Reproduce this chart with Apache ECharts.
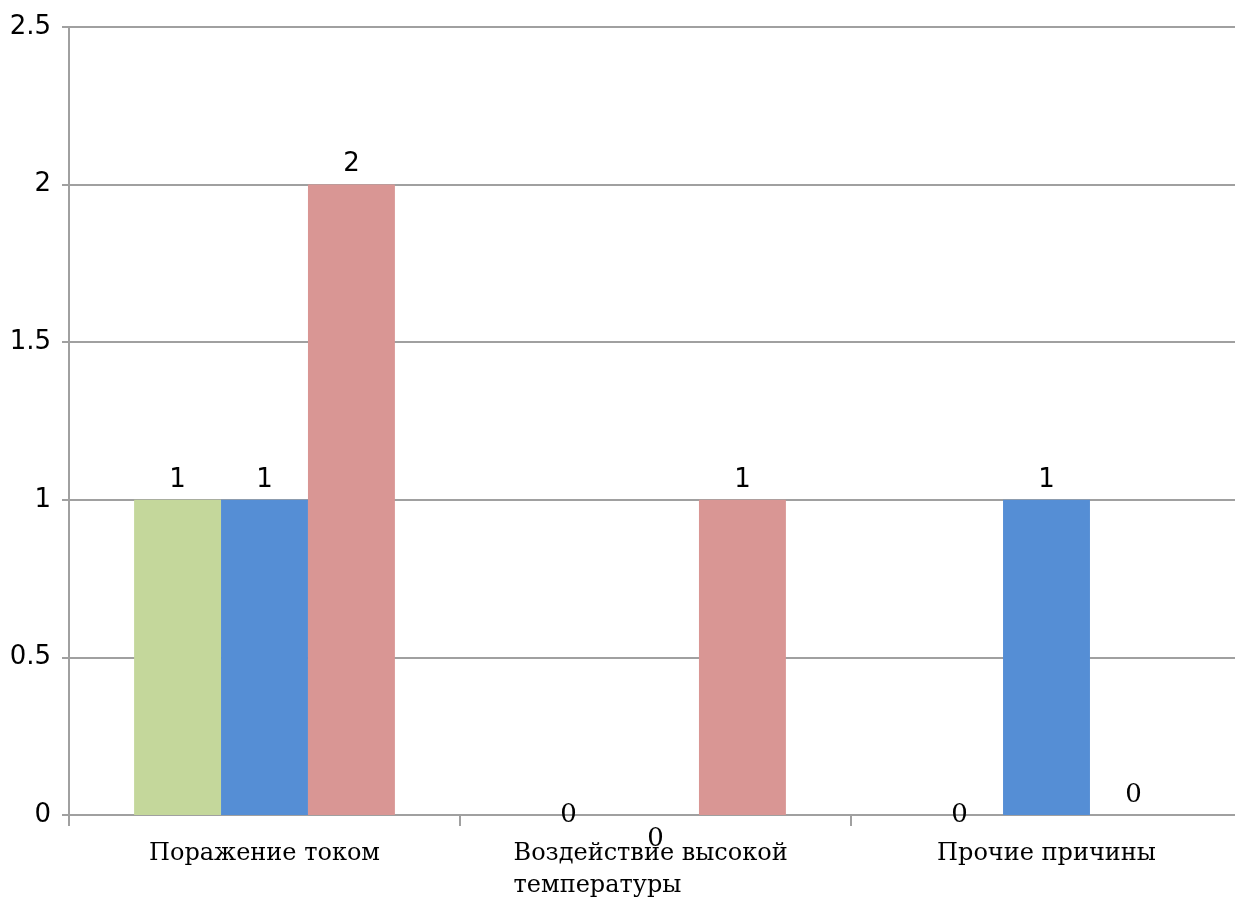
<!DOCTYPE html>
<html>
<head>
<meta charset="utf-8">
<script src="https://cdn.jsdelivr.net/npm/echarts@6/dist/echarts.min.js"></script>
<style>
  html, body { margin: 0; padding: 0; background: #fff; }
  #chart { width: 1235px; height: 897px; }
</style>
</head>
<body>
<div id="chart"></div>
<script>
// Causes of incidents, count per category
const categories = ['Поражение током', 'Воздействие высокой температуры', 'Прочие причины'];
const seriesNames = ['Ряд 1', 'Ряд 2', 'Ряд 3'];
const valuesGreen = [1, 0, 0];
const valuesBlue = [1, 0, 1];
const valuesRed = [2, 1, 0];
const yTicks = [0, 0.5, 1, 1.5, 2, 2.5];

const colors = ['#c4d79b', '#558ed5', '#d99694'];
// where a zero value's label sits relative to the baseline, and how far off it
const zeroLabelPos = ['inside', 'bottom', 'top'];
const zeroLabelDist = [0, 11, 7];

const sans = 'DejaVu Sans';
const serif = 'DejaVu Serif';
const lineColor = '#a0a0a0';

function wrapWords(text, maxChars) {
  const words = text.split(' ');
  const lines = [];
  let cur = '';
  words.forEach(w => {
    if (cur && (cur + ' ' + w).length > maxChars) { lines.push(cur); cur = w; }
    else { cur = cur ? cur + ' ' + w : w; }
  });
  if (cur) lines.push(cur);
  return lines;
}

function makeSeries(values, idx) {
  return {
    name: seriesNames[idx],
    type: 'bar',
    barGap: '0%',
    barCategoryGap: '33.3%',
    itemStyle: { color: colors[idx] },
    label: {
      show: true,
      position: 'top',
      distance: 7,
      fontFamily: sans,
      fontSize: 26,
      color: '#000'
    },
    data: values.map(v => v === 0 ? {
      value: v,
      label: {
        position: zeroLabelPos[idx],
        distance: zeroLabelDist[idx],
        fontFamily: serif,
        fontSize: 26,
        color: '#000'
      }
    } : v)
  };
}

const chart = echarts.init(document.getElementById('chart'), null, { renderer: 'canvas' });
chart.setOption({
  animation: false,
  backgroundColor: '#fff',
  grid: { left: 69, right: -7, top: 27, bottom: 82, containLabel: false, outerBoundsMode: 'none' },
  xAxis: {
    type: 'category',
    data: categories,
    axisLine: { show: true, lineStyle: { color: lineColor, width: 2 } },
    axisTick: { show: true, length: 11, alignWithLabel: false, lineStyle: { color: lineColor, width: 2 } },
    axisLabel: {
      interval: 0,
      margin: 23,
      fontFamily: serif,
      fontSize: 24,
      color: '#000',
      lineHeight: 32,
      hideOverlap: false,
      formatter: function (val) {
        const lines = wrapWords(val, 20);
        if (lines.length === 1) return val;
        return lines.map(l => '{w|' + l + '}').join('\n');
      },
      rich: {
        w: { width: 284, align: 'left', fontFamily: serif, fontSize: 24, lineHeight: 32, color: '#000' }
      }
    }
  },
  yAxis: {
    type: 'value',
    min: yTicks[0],
    max: yTicks[yTicks.length - 1],
    interval: 0.5,
    axisLine: { show: true, lineStyle: { color: lineColor, width: 2 } },
    axisTick: { show: true, length: 7, lineStyle: { color: lineColor, width: 2 } },
    splitLine: { show: true, lineStyle: { color: lineColor, width: 2 } },
    axisLabel: {
      margin: 18,
      fontFamily: sans,
      fontSize: 26,
      color: '#000',
      padding: [4, 0, 0, 0]
    }
  },
  series: [
    makeSeries(valuesGreen, 0),
    makeSeries(valuesBlue, 1),
    makeSeries(valuesRed, 2)
  ]
});
</script>
</body>
</html>
